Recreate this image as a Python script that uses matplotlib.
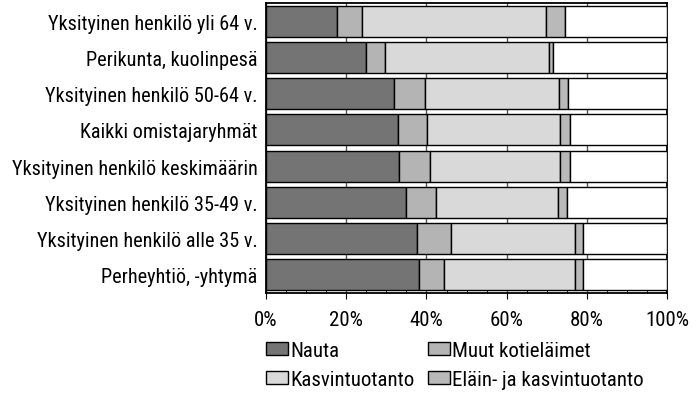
import matplotlib.pyplot as plt
from matplotlib.patches import Patch
from matplotlib.ticker import MultipleLocator, PercentFormatter

plt.rcParams['font.family'] = ['Roboto Condensed', 'Liberation Sans Narrow', 'Roboto', 'DejaVu Sans']

categories = ["Yksityinen henkilö yli 64 v.",
              "Perikunta, kuolinpesä",
              "Yksityinen henkilö 50-64 v.",
              "Kaikki omistajaryhmät",
              "Yksityinen henkilö keskimäärin",
              "Yksityinen henkilö 35-49 v.",
              "Yksityinen henkilö alle 35 v.",
              "Perheyhtiö, -yhtymä"]

nauta = [17.6, 24.9, 31.8, 32.9, 33.2, 34.8, 37.7, 38.1]
muut = [6.3, 4.8, 7.8, 7.3, 7.7, 7.5, 8.3, 6.3]
kasvi = [45.9, 40.8, 33.4, 33.1, 32.3, 30.4, 31.0, 32.7]
elain = [4.8, 1.0, 2.3, 2.4, 2.5, 2.4, 2.1, 2.0]

series = [("Nauta", nauta, "#747474"),
          ("Muut kotieläimet", muut, "#b4b4b4"),
          ("Kasvintuotanto", kasvi, "#d9d9d9"),
          ("Eläin- ja kasvintuotanto", elain, "#b9b9b9")]

fig = plt.figure(figsize=(6.98, 4.06), dpi=100)
ax = fig.add_axes([0.381, 0.276, 0.575, 0.714])

ypos = list(range(len(categories)))
left = [0.0] * len(categories)
for name, vals, col in series:
    ax.barh(ypos, vals, left=left, height=0.85, color=col,
            edgecolor="black", linewidth=1.0, zorder=3)
    left = [l + v for l, v in zip(left, vals)]
# remaining share up to 100 %
rest = [100 - l for l in left]
ax.barh(ypos, rest, left=left, height=0.85, color="white",
        edgecolor="black", linewidth=1.0, zorder=3)

ax.set_xlim(0, 100)
ax.set_ylim(len(categories) - 0.5, -0.5)
ax.set_yticks(ypos)
ax.set_yticklabels(categories, fontsize=14.6)
ax.tick_params(axis="y", length=0, pad=6)

ax.xaxis.set_major_locator(MultipleLocator(20))
ax.xaxis.set_minor_locator(MultipleLocator(5))
ax.xaxis.set_major_formatter(PercentFormatter(decimals=0))
ax.tick_params(axis="x", which="major", labelsize=15, length=4,
               direction="out", pad=8)
ax.tick_params(axis="x", which="minor", length=3, direction="in")
ax.grid(axis="x", color="#555555", linewidth=1.0, zorder=0)
for s in ax.spines.values():
    s.set_linewidth(1.3)

# legend filled row by row like the original
order = [0, 2, 1, 3]
handles = [Patch(facecolor=series[i][2], edgecolor="black", label=series[i][0])
           for i in order]
fig.legend(handles=handles, ncol=2, loc="upper left",
           bbox_to_anchor=(0.381, 0.158), frameon=False, fontsize=15,
           handlelength=1.05, handleheight=0.57, handletextpad=0.1,
           columnspacing=0.65, labelspacing=0.5, borderaxespad=0,
           borderpad=0)

fig.savefig("out.png", dpi=100)
